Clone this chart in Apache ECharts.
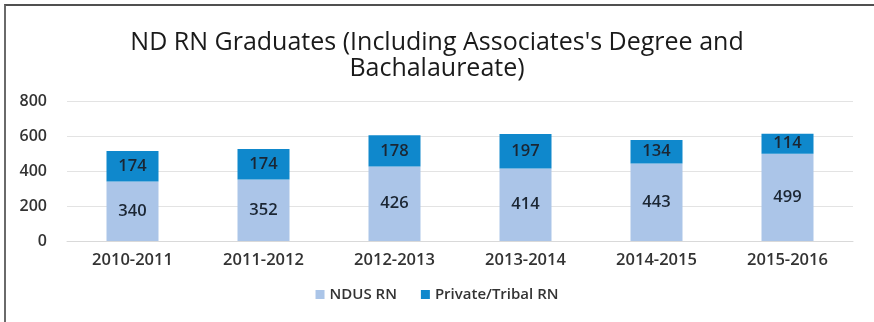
<!DOCTYPE html>
<html><head><meta charset="utf-8">
<script src="https://cdn.jsdelivr.net/npm/echarts@6/dist/echarts.min.js"></script>
<style>
html,body{margin:0;padding:0;background:#fff;}
#wrap{position:absolute;left:4px;top:4px;width:870px;height:318px;border-top:2px solid #505050;border-left:2px solid #6a6a6a;box-sizing:border-box;}
#c{position:absolute;left:0;top:0;width:874px;height:322px;}
</style></head>
<body>
<div id="wrap"></div>
<div id="c"></div>
<script>
const categories = ['2010-2011','2011-2012','2012-2013','2013-2014','2014-2015','2015-2016'];
const ndusRN = [340, 352, 426, 414, 443, 499];
const privateTribalRN = [174, 174, 178, 197, 134, 114];
const yTicks = [0, 200, 400, 600, 800];

const chart = echarts.init(document.getElementById('c'), null, {renderer:'canvas'});
const font = 'Open Sans, Lato, sans-serif';
chart.setOption({
  backgroundColor: 'transparent',
  animation: false,
  title: {
    text: "ND RN Graduates (Including Associates's Degree and\nBachalaureate)",
    left: 'center', top: 25,
    textStyle: {fontFamily: font, fontSize: 25, fontWeight: 'normal', color: '#1a1a1a', lineHeight: 26}
  },
  legend: {
    bottom: 15, left: 'center',
    itemWidth: 9, itemHeight: 9, itemGap: 24,
    icon: 'rect',
    textStyle: {fontFamily: font, fontSize: 15, color: '#333', fontWeight: 600},
    data: ['NDUS RN', 'Private/Tribal RN']
  },
  grid: {left: 67, right: 21, top: 101, bottom: 81},
  xAxis: {
    type: 'category', data: categories,
    axisLine: {lineStyle: {color: '#d9d9d9'}},
    axisTick: {show: false},
    axisLabel: {fontFamily: font, fontSize: 16.5, color: '#333', fontWeight: 600, margin: 11}
  },
  yAxis: {
    type: 'value', min: yTicks[0], max: yTicks[yTicks.length-1], interval: 200,
    axisLine: {show: false}, axisTick: {show: false},
    splitLine: {lineStyle: {color: '#e3e3e3'}},
    axisLabel: {fontFamily: font, fontSize: 16, color: '#333', fontWeight: 600, margin: 20}
  },
  series: [
    {name: 'NDUS RN', type: 'bar', stack: 'a', data: ndusRN, barWidth: 52,
     itemStyle: {color: '#abc5e8'},
     label: {show: true, position: 'inside', fontFamily: font, fontSize: 16.5, fontWeight: 600, color: '#1b2633'}},
    {name: 'Private/Tribal RN', type: 'bar', stack: 'a', data: privateTribalRN, barWidth: 52,
     itemStyle: {color: '#0f88cc'},
     label: {show: true, position: 'inside', fontFamily: font, fontSize: 16.5, fontWeight: 600, color: '#1b2633'}}
  ]
});
</script>
</body></html>
